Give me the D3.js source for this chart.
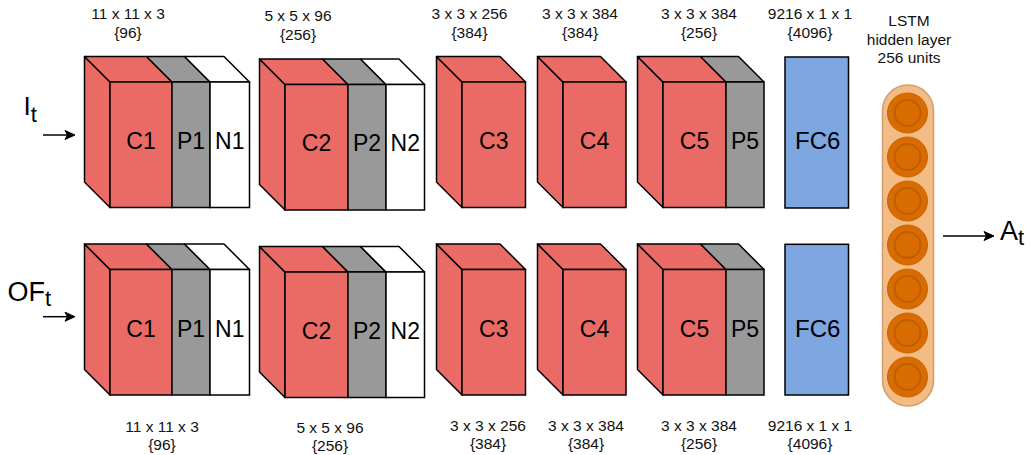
<!DOCTYPE html>
<html><head><meta charset="utf-8">
<script src="https://cdn.jsdelivr.net/npm/d3@7"></script>
<style>html,body{margin:0;padding:0;background:#fff;}svg{display:block;}</style>
</head><body>
<svg id="chart" width="1031" height="455"></svg>
<script>
// ---- data ----
const streams = ["I", "OF"];
const streamSub = "t";
const outputLabel = "A";
const groups = [["C1","P1","N1"], ["C2","P2","N2"], ["C3"], ["C4"], ["C5","P5"], ["FC6"]];
const kernelLabels = ["11 x 11 x 3", "5 x 5 x 96", "3 x 3 x 256", "3 x 3 x 384", "3 x 3 x 384", "9216 x 1 x 1"];
const filterLabels = ["{96}", "{256}", "{384}", "{384}", "{256}", "{4096}"];
const lstmLines = ["LSTM", "hidden layer", "256 units"];
const lstmUnits = d3.range(7);

// ---- layout / style (not data) ----
const colorOf = n => n.startsWith("FC") ? "#7EA6E0" : n[0] === "C" ? "#EA6B66" : n[0] === "P" ? "#999999" : "#FFFFFF";
const segEdges = [[110,172,210,249.5],[285,348,386,424.5],[462,525.5],[563,626],[663,726,764],[785,848.5]];
const depth = 25.5;
const rowGeom = [
  {top:82, bottom:207.5, shift2:2.5, textBase:148.8, fcTop:57, fcBottom:208, lab1:[19,21,19,19,19,19], lab2:[37.5,39.5,37.5,37.5,37.5,37.5], arrowY:135, inBase:115},
  {top:269.5, bottom:395, shift2:2.5, textBase:336.5, fcTop:244.3, fcBottom:395, lab1:[431.5,432.8,430.5,430.5,430.5,430.5], lab2:[449.5,451,448.5,448.5,448.5,448.5], arrowY:316.7, inBase:300.5}
];
const labelX = [[128,298,469.5,580,699,810],[162,330,488,586,699,810]];
const font = "'Liberation Sans', Arial, Helvetica, sans-serif";
const labelSize = 15.5;

const svg = d3.select("#chart");

function arrow(g, x1, x2, y) {
  g.append("line").attr("x1", x1).attr("x2", x2 - 6).attr("y1", y).attr("y2", y)
    .attr("stroke", "#000").attr("stroke-width", 1.5);
  g.append("path").attr("d", `M${x2},${y} L${x2-10},${y-4.5} L${x2-7.5},${y} L${x2-10},${y+4.5} Z`)
    .attr("fill", "#000").attr("stroke", "#000").attr("stroke-width", 1);
}

rowGeom.forEach((rg, r) => {
  const g = svg.append("g");
  groups.forEach((grp, gi) => {
    const edges = segEdges[gi];
    const sh = gi === 1 ? rg.shift2 : 0;
    const top = rg.top + sh, bot = rg.bottom + sh;
    if (grp[0].startsWith("FC")) {
      g.append("rect").attr("x", edges[0]).attr("y", rg.fcTop).attr("width", edges[1]-edges[0]).attr("height", rg.fcBottom - rg.fcTop)
        .attr("fill", colorOf(grp[0])).attr("stroke", "#000").attr("stroke-width", 1.5);
      g.append("text").attr("x", (edges[0]+edges[1])/2 + 1).attr("y", rg.textBase).attr("text-anchor", "middle")
        .attr("font-family", font).attr("font-size", 24).text(grp[0]);
    } else {
      const x0 = edges[0];
      g.append("path").attr("d", `M${x0},${top} L${x0-depth},${top-depth} L${x0-depth},${bot-depth} L${x0},${bot} Z`)
        .attr("fill", colorOf(grp[0])).attr("stroke", "#000").attr("stroke-width", 1.5).attr("stroke-linejoin", "round");
      grp.forEach((name, si) => {
        const a = edges[si], b = edges[si+1];
        g.append("path").attr("d", `M${a},${top} L${a-depth},${top-depth} L${b-depth},${top-depth} L${b},${top} Z`)
          .attr("fill", colorOf(name)).attr("stroke", "#000").attr("stroke-width", 1.5).attr("stroke-linejoin", "round");
        g.append("rect").attr("x", a).attr("y", top).attr("width", b - a).attr("height", bot - top)
          .attr("fill", colorOf(name)).attr("stroke", "#000").attr("stroke-width", 1.5);
        g.append("text").attr("x", (a+b)/2).attr("y", rg.textBase + sh).attr("text-anchor", "middle")
          .attr("font-family", font).attr("font-size", 23).text(name);
      });
    }
    g.append("text").attr("x", labelX[r][gi]).attr("y", rg.lab1[gi]).attr("text-anchor", "middle")
      .attr("font-family", font).attr("font-size", labelSize).attr("fill", "#111").text(kernelLabels[gi]);
    g.append("text").attr("x", labelX[r][gi]).attr("y", rg.lab2[gi]).attr("text-anchor", "middle")
      .attr("font-family", font).attr("font-size", labelSize).attr("fill", "#111").text(filterLabels[gi]);
  });
  const t = g.append("text").attr("x", r === 0 ? 23.5 : 7.5).attr("y", rg.inBase)
    .attr("font-family", font).attr("font-size", r === 0 ? 26 : 27);
  t.append("tspan").text(streams[r]);
  t.append("tspan").attr("font-size", 22).attr("dy", r === 0 ? 6.5 : 5).text(streamSub);
  arrow(g, 43, 75, rg.arrowY);
});

// LSTM
const lg = svg.append("g");
lstmLines.forEach((s, i) => {
  lg.append("text").attr("x", 909).attr("y", 26 + i * 18.7).attr("text-anchor", "middle")
    .attr("font-family", font).attr("font-size", labelSize).attr("fill", "#111").text(s);
});
lg.append("rect").attr("x", 882.5).attr("y", 85).attr("width", 51).attr("height", 321).attr("rx", 25.5)
  .attr("fill", "#F4BC85").attr("stroke", "#D39C6C").attr("stroke-width", 1.5);
const yU = d3.scaleLinear().domain([0, lstmUnits.length - 1]).range([113, 377]);
lg.selectAll("circle.outer").data(lstmUnits).join("circle").attr("class", "outer")
  .attr("cx", 907.5).attr("cy", d => yU(d)).attr("r", 20)
  .attr("fill", "#D96C00").attr("stroke", "#C86300").attr("stroke-width", 1);
lg.selectAll("circle.inner").data(lstmUnits).join("circle").attr("class", "inner")
  .attr("cx", 907.5).attr("cy", d => yU(d)).attr("r", 13)
  .attr("fill", "none").attr("stroke", "#BF5E00").attr("stroke-width", 2);

arrow(lg, 943, 994, 236);
const ot = lg.append("text").attr("x", 1000).attr("y", 240).attr("font-family", font).attr("font-size", 27);
ot.append("tspan").text(outputLabel);
ot.append("tspan").attr("font-size", 22).attr("dy", 5).text(streamSub);
</script>
</body></html>
